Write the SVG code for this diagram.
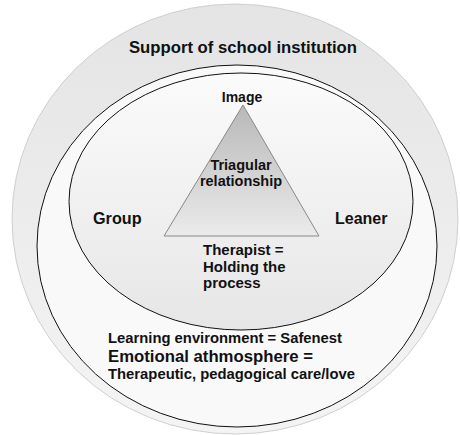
<svg xmlns="http://www.w3.org/2000/svg" width="460" height="435" viewBox="0 0 460 435">
<style>
text{font-family:"Liberation Sans",Arial,sans-serif;font-weight:bold;fill:#111}
.c{text-anchor:middle}
</style>
<defs>
<linearGradient id="gOuter" x1="0" y1="0" x2="0" y2="1">
<stop offset="0" stop-color="#e4e4e4"/><stop offset="1" stop-color="#f4f4f4"/>
</linearGradient>
<linearGradient id="gInner" x1="0" y1="0" x2="0" y2="1">
<stop offset="0" stop-color="#fbfbfb"/><stop offset="1" stop-color="#e6e6e6"/>
</linearGradient>
<linearGradient id="gTri" x1="0" y1="0" x2="0" y2="1">
<stop offset="0" stop-color="#b8b8b8"/><stop offset="1" stop-color="#ebebeb"/>
</linearGradient>
</defs>
<g id="outer">
<ellipse cx="235" cy="219" rx="223" ry="215" fill="url(#gOuter)" stroke="#cfcfcf" stroke-width="1"/>
<text class="c" x="243" y="53" font-size="16.7">Support of school institution</text>
</g>
<g id="environment">
<ellipse cx="237" cy="246" rx="200" ry="181" fill="#f9f9f9" stroke="#111" stroke-width="1"/>
<text x="108" y="343" font-size="14.8" textLength="234" lengthAdjust="spacingAndGlyphs">Learning environment = Safenest</text>
<text x="108" y="362" font-size="16" textLength="205" lengthAdjust="spacingAndGlyphs">Emotional athmosphere =</text>
<text x="108" y="379" font-size="14.8" textLength="247" lengthAdjust="spacingAndGlyphs">Therapeutic, pedagogical care/love</text>
</g>
<g id="inner">
<ellipse cx="241" cy="201.5" rx="172" ry="128.5" fill="url(#gInner)" stroke="#111" stroke-width="1"/>
<text x="93" y="224" font-size="16.2">Group</text>
<text x="335" y="224" font-size="16">Leaner</text>
<text x="203" y="255" font-size="15">Therapist =</text>
<text x="203" y="272" font-size="15">Holding the</text>
<text x="203" y="288" font-size="15">process</text>
</g>
<g id="triangle">
<polygon points="243,105 164,236 319,236" fill="url(#gTri)" stroke="#888" stroke-width="1"/>
<text class="c" x="242" y="102" font-size="14">Image</text>
<text class="c" x="241" y="170" font-size="14.5">Triagular</text>
<text class="c" x="241" y="186" font-size="14.5">relationship</text>
</g>
<g id="connectors"/>
</svg>
